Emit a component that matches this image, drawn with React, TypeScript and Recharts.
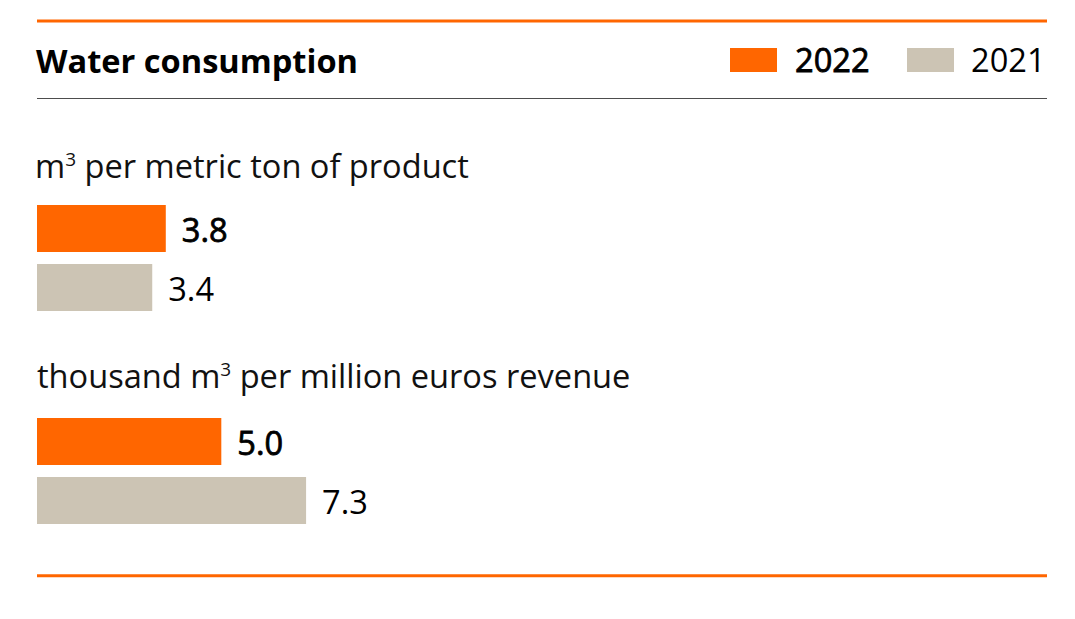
import React from 'react';
import { BarChart, Bar, XAxis, YAxis, Cell, LabelList } from 'recharts';

const categories = ['2022', '2021'];
const perTonValues = [3.8, 3.4];
const perRevenueValues = [5.0, 7.3];
const seriesColors = ['#ff6600', '#ccc4b4'];
const labelStrokes = [0.8, 0];
const titleText = 'Water consumption';

const FONT = '"Open Sans", sans-serif';
const FS = 32.6;

const makeData = (vals: number[]) => categories.map((c, i) => ({ year: c, value: vals[i] }));

const renderLabel = (props: any) => {
  const { x, y, width, height, value, index } = props;
  const sw = labelStrokes[index];
  return (
    <text
      x={Number(x) + Number(width) + 16}
      y={Number(y) + Number(height) / 2 + 13.5}
      fontFamily={FONT}
      fontSize={FS}
      fontWeight={400}
      fill="#000"
      stroke={sw ? '#000' : 'none'}
      strokeWidth={sw}
    >
      {Number(value).toFixed(1)}
    </text>
  );
};

const GroupChart = ({ vals, max, top }: { vals: number[]; max: number; top: number }) => (
  <div style={{ position: 'absolute', left: 37, top, width: 1010, height: 118 }}>
    <BarChart
      width={1010}
      height={118}
      data={makeData(vals)}
      layout="vertical"
      margin={{ top: 0, right: 0, bottom: 0, left: 0 }}
    >
      <XAxis type="number" hide domain={[0, max]} />
      <YAxis type="category" dataKey="year" hide />
      <Bar dataKey="value" barSize={47} isAnimationActive={false}>
        {categories.map((c, i) => (
          <Cell key={c} fill={seriesColors[i]} />
        ))}
        <LabelList dataKey="value" content={renderLabel} />
      </Bar>
    </BarChart>
  </div>
);

export default function App() {
  return (
    <div style={{ position: 'absolute', left: 0, top: 0, width: 1075, height: 619, background: '#fff', fontFamily: FONT }}>
      <svg width={1075} height={619} style={{ position: 'absolute', left: 0, top: 0 }}>
        <line x1={37} x2={1047} y1={21} y2={21} stroke="#ff6600" strokeWidth={3} />
        <text x={36} y={73} fontFamily={FONT} fontSize={FS} fontWeight={700} fill="#000">
          {titleText}
        </text>
        <rect x={730} y={48} width={47} height={24} fill={seriesColors[0]} />
        <text x={795} y={72} fontFamily={FONT} fontSize={FS} fontWeight={400} fill="#000" stroke="#000" strokeWidth={0.8}>
          {categories[0]}
        </text>
        <rect x={907} y={48} width={47} height={24} fill={seriesColors[1]} />
        <text x={971} y={72} fontFamily={FONT} fontSize={FS} fontWeight={400} fill="#000">
          {categories[1]}
        </text>
        <line x1={37} x2={1047} y1={98.5} y2={98.5} stroke="#4d4d4d" strokeWidth={1.2} />
        <text x={35} y={178} fontFamily={FONT} fontSize={FS} fill="#111">
          m<tspan fontSize={19} dy={-12}>3</tspan>
          <tspan dy={12}> per metric ton of product</tspan>
        </text>
        <text x={37} y={388} fontFamily={FONT} fontSize={FS} fill="#111">
          thousand m<tspan fontSize={19} dy={-12}>3</tspan>
          <tspan dy={12}> per million euros revenue</tspan>
        </text>
        <line x1={37} x2={1047} y1={575.8} y2={575.8} stroke="#ff6600" strokeWidth={3} />
      </svg>
      <GroupChart vals={perTonValues} max={29.8} top={199} />
      <GroupChart vals={perRevenueValues} max={27.4} top={412} />
    </div>
  );
}
